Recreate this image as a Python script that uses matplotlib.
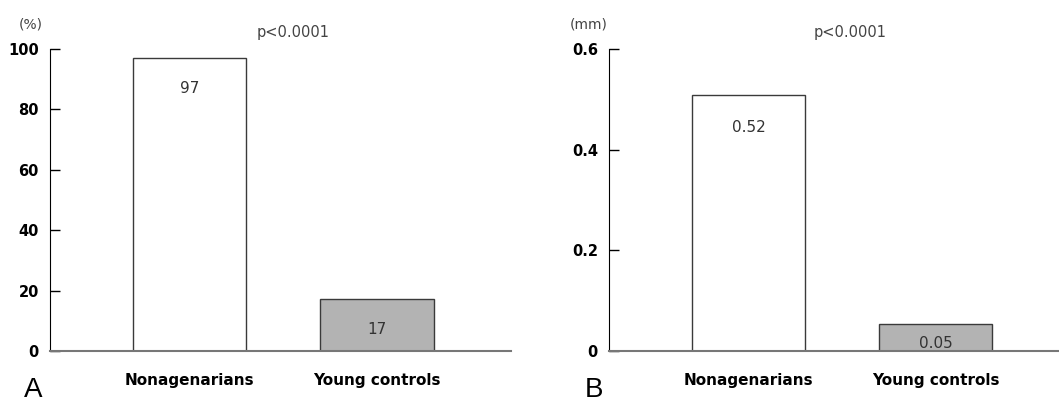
import matplotlib
matplotlib.use("Agg")
import matplotlib.pyplot as plt

# values
groups = ["Nonagenarians", "Young controls"]
pct_heights = [97, 17.2]
pct_labels = ["97", "17"]
mm_heights = [0.508, 0.054]
mm_labels = ["0.52", "0.05"]
pct_ticks = [0, 20, 40, 60, 80, 100]
mm_ticks = [0, 0.2, 0.4, 0.6]
p_text = "p<0.0001"

FILLS = ["white", "#b3b3b3"]
EDGE = "#3a3a3a"
W, H = 1059, 401

fig = plt.figure(figsize=(W / 100, H / 100), dpi=100)


def px_axes(x0, x1, ytop, ybot):
    return fig.add_axes([x0 / W, 1 - ybot / H, (x1 - x0) / W, (ybot - ytop) / H])


def panel(ax, heights, labels, ticks, ylim, xlim, tickfmt, offsets, unit, letter, unit_x, letter_x, p_x):
    xs = range(len(heights))
    ax.bar(xs, heights, width=0.605, color=FILLS, edgecolor=EDGE, linewidth=1.0, zorder=2)
    for x, h, lab, off in zip(xs, heights, labels, offsets):
        ax.annotate(lab, (x, h), xytext=(0, -off * 0.72), textcoords="offset points",
                    ha="center", va="center", fontsize=11, color="#333333")
    ax.set_xlim(*xlim)
    ax.set_ylim(*ylim)
    ax.set_yticks(ticks)
    ax.set_yticklabels([tickfmt(t) for t in ticks], fontsize=10.5, fontweight="bold",
                       family="DejaVu Sans")
    ax.set_xticks(list(xs))
    ax.set_xticklabels(groups, fontsize=11, fontweight="bold")
    ax.tick_params(axis="y", direction="in", length=7, width=1, pad=8, colors="black")
    ax.tick_params(axis="x", length=0, pad=16)
    for s in ("top", "right"):
        ax.spines[s].set_visible(False)
    ax.spines["left"].set_color("black")
    ax.spines["bottom"].set_color("#777777")
    ax.spines["bottom"].set_linewidth(1.5)
    fig.text(unit_x / W, 1 - 25 / H, unit, fontsize=10, color="#444444", ha="center", va="center")
    fig.text(letter_x / W, 1 - 390 / H, letter, fontsize=20, ha="center", va="center",
             family="Liberation Sans")
    fig.text(p_x / W, 1 - 33 / H, p_text, fontsize=10.5, color="#444444", ha="center", va="center")


axA = px_axes(50, 511, 49, 351)
axB = px_axes(609, 1059, 49, 351)

panel(axA, pct_heights, pct_labels, pct_ticks, (0, 100), (-0.744, 1.715),
      lambda t: "%d" % t, [30, 30], "(%)", "A", 31, 33, 293)
panel(axB, mm_heights, mm_labels, mm_ticks, (0, 0.6), (-0.749, 1.66),
      lambda t: "0" if t == 0 else "%.1f" % t, [32, 19.5], "(mm)", "B", 589, 594, 850)

fig.savefig("out.png", dpi=100)
